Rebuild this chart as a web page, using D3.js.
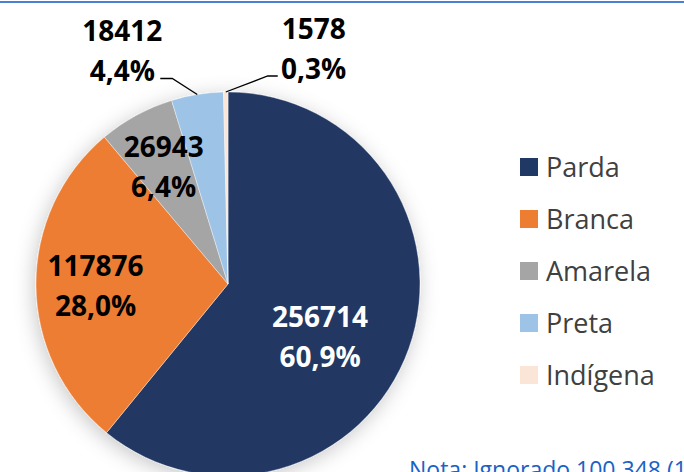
<!DOCTYPE html>
<html>
<head>
<meta charset="utf-8">
<script src="https://cdn.jsdelivr.net/npm/d3@7"></script>
<style>
  body { margin: 0; background: #fff; }
  #wrapper { width: 684px; height: 472px; overflow: hidden; }
</style>
</head>
<body>
<div id="wrapper"></div>
<script>
// data
const categories = ["Parda", "Branca", "Amarela", "Preta", "Indígena"];
const values = [256714, 117876, 26943, 18412, 1578];
const percentLabels = ["60,9%", "28,0%", "6,4%", "4,4%", "0,3%"];
const colors = ["#203864", "#ED7D31", "#A5A5A5", "#9DC3E6", "#FBE5D6"];
const noteText = "Nota: Ignorado 100.348 (19,2%)";

function drawPie() {
    let dimensions = {
        width: 684,
        height: 472,
        cx: 228,
        cy: 284,
        radius: 192,
    }

    const dataset = categories.map((c, i) => ({
        name: c,
        value: values[i],
        pct: percentLabels[i],
        color: colors[i],
    }))

    const wrapper = d3.select("#wrapper")
        .html("")
        .append("svg")
        .attr("width", dimensions.width)
        .attr("height", dimensions.height)
        .style("font-family", "'Open Sans', sans-serif");

    // soft shadow behind the pie
    const filter = wrapper.append("defs").append("filter")
        .attr("id", "shadow")
        .attr("x", "-30%").attr("y", "-30%")
        .attr("width", "160%").attr("height", "160%");
    filter.append("feDropShadow")
        .attr("dx", -2).attr("dy", 4)
        .attr("stdDeviation", 10)
        .attr("flood-color", "#000")
        .attr("flood-opacity", 0.22);

    // top border line
    wrapper.append("line")
        .attr("x1", 0).attr("x2", dimensions.width)
        .attr("y1", 2).attr("y2", 2)
        .attr("stroke", "#4a7fd4")
        .attr("stroke-width", 2);

    const bounds = wrapper.append("g")
        .attr("transform", `translate(${dimensions.cx},${dimensions.cy})`);

    const pie = d3.pie()
        .sort(null)
        .value(d => d.value);
    const arcs = pie(dataset);

    const arcGen = d3.arc()
        .innerRadius(0)
        .outerRadius(dimensions.radius);

    const slices = bounds.append("g")
        .attr("filter", "url(#shadow)");
    slices.selectAll("path")
        .data(arcs)
        .enter()
        .append("path")
        .attr("d", arcGen)
        .attr("fill", d => d.data.color)
        .attr("stroke", "#fff")
        .attr("stroke-width", 0.4);

    const lineH = 40;
    const fontSize = 28;

    // inside labels (big slices)
    const labelRadius = [0.55, 0.69, 0.70];
    const angleShift = [0.17, 0.0, 0.0];
    arcs.slice(0, 3).forEach((d, i) => {
        const a = (d.startAngle + d.endAngle) / 2 + angleShift[i];
        const r = dimensions.radius * labelRadius[i];
        const x = Math.sin(a) * r;
        const y = -Math.cos(a) * r;
        const t = bounds.append("text")
            .attr("text-anchor", "middle")
            .attr("font-weight", "bold")
            .attr("font-size", fontSize + "px")
            .attr("fill", i == 0 ? "#fff" : "#000");
        t.append("tspan").attr("x", x).attr("y", y - lineH / 2 + 11).text(d.data.value);
        t.append("tspan").attr("x", x).attr("y", y + lineH / 2 + 11).text(d.data.pct);
    });

    // outside labels with leader lines (small slices)
    arcs.slice(3).forEach((d, j) => {
        const a = (d.startAngle + d.endAngle) / 2;
        const px = Math.sin(a) * dimensions.radius;
        const py = -Math.cos(a) * dimensions.radius;
        const side = j == 0 ? -1 : 1;
        const ey = py - 16;
        const ex = px + side * (j == 0 ? 25 : 42);
        const hx = ex + side * (j == 0 ? 12 : 10);
        bounds.append("polyline")
            .attr("points", [[px, py], [ex, ey], [hx, ey]].map(p => p.join(",")).join(" "))
            .attr("fill", "none")
            .attr("stroke", "#000")
            .attr("stroke-width", 1.3);
        const tx = hx + side * (j == 0 ? 38 : 36);
        const t = bounds.append("text")
            .attr("text-anchor", "middle")
            .attr("font-weight", "bold")
            .attr("font-size", fontSize + "px")
            .attr("fill", "#000");
        t.append("tspan").attr("x", tx).attr("y", ey - 37).text(d.data.value);
        t.append("tspan").attr("x", tx).attr("y", ey + 3).text(d.data.pct);
    });

    // legend
    const legend = wrapper.append("g")
        .attr("transform", "translate(520,167)");
    const rows = legend.selectAll("g")
        .data(dataset)
        .enter()
        .append("g")
        .attr("transform", (d, i) => `translate(0,${i * 52})`);
    rows.append("rect")
        .attr("x", 0).attr("y", -9)
        .attr("width", 18).attr("height", 18)
        .attr("fill", d => d.color);
    rows.append("text")
        .attr("x", 26).attr("y", 10)
        .attr("font-size", "27px")
        .attr("fill", "#404040")
        .text(d => d.name);

    // note at the bottom, cut by the frame as in the original
    wrapper.append("text")
        .attr("x", 409)
        .attr("y", 478)
        .attr("font-size", "23px")
        .attr("fill", "#1a62c6")
        .text(noteText);
}

drawPie();
</script>
</body>
</html>
